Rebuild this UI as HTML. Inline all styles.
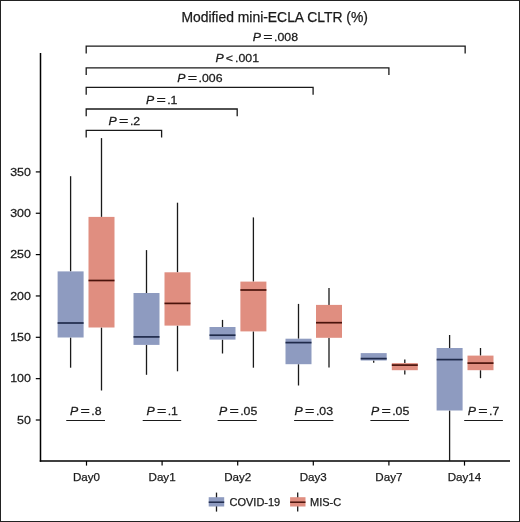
<!DOCTYPE html>
<html><head><meta charset="utf-8"><style>
html,body{margin:0;padding:0;background:#fff;}
body{width:520px;height:522px;overflow:hidden;}
svg{display:block;will-change:transform;}
text{stroke:#1a1a1a;stroke-width:0.25px;}
</style></head><body>
<svg width="520" height="522" viewBox="0 0 520 522">
<rect x="0" y="0" width="520" height="522" fill="#fff"/>
<rect x="0.5" y="0.5" width="519" height="521" fill="none" stroke="#222" stroke-width="1"/>
<text x="181.4" y="22.4" font-size="13.9" font-family="'Liberation Sans', sans-serif" fill="#1a1a1a">Modified mini-ECLA CLTR (%)</text>
<path d="M86.20 53.50 V46.2 H465.15 V53.50" fill="none" stroke="#1a1a1a" stroke-width="1.3"/>
<g transform="translate(252.80,40.9) scale(1.08,1)" font-size="11.4" font-family="'Liberation Sans', sans-serif" fill="#1a1a1a"><text x="0" y="0" font-style="italic">P</text><text transform="translate(9.72,0) scale(1.30,1)" x="0" y="0">=</text><text x="19.72" y="0">.008</text></g>
<path d="M86.20 75.10 V67.8 H388.90 V75.10" fill="none" stroke="#1a1a1a" stroke-width="1.3"/>
<g transform="translate(215.60,62.4) scale(1.08,1)" font-size="11.4" font-family="'Liberation Sans', sans-serif" fill="#1a1a1a"><text x="0" y="0" font-style="italic">P</text><text x="9.35" y="0">&lt;</text><text x="18.06" y="0">.001</text></g>
<path d="M86.20 94.70 V87.4 H313.10 V94.70" fill="none" stroke="#1a1a1a" stroke-width="1.3"/>
<g transform="translate(177.30,82.4) scale(1.08,1)" font-size="11.4" font-family="'Liberation Sans', sans-serif" fill="#1a1a1a"><text x="0" y="0" font-style="italic">P</text><text transform="translate(9.72,0) scale(1.30,1)" x="0" y="0">=</text><text x="19.72" y="0">.006</text></g>
<path d="M86.20 116.30 V109.0 H237.20 V116.30" fill="none" stroke="#1a1a1a" stroke-width="1.3"/>
<g transform="translate(145.90,103.9) scale(1.08,1)" font-size="11.4" font-family="'Liberation Sans', sans-serif" fill="#1a1a1a"><text x="0" y="0" font-style="italic">P</text><text transform="translate(9.72,0) scale(1.30,1)" x="0" y="0">=</text><text x="19.72" y="0">.1</text></g>
<path d="M86.20 137.60 V130.3 H161.60 V137.60" fill="none" stroke="#1a1a1a" stroke-width="1.3"/>
<g transform="translate(108.60,125.3) scale(1.08,1)" font-size="11.4" font-family="'Liberation Sans', sans-serif" fill="#1a1a1a"><text x="0" y="0" font-style="italic">P</text><text transform="translate(9.72,0) scale(1.30,1)" x="0" y="0">=</text><text x="19.72" y="0">.2</text></g>
<line x1="66.25" y1="420.5" x2="105.00" y2="420.5" stroke="#1a1a1a" stroke-width="1.2"/>
<g transform="translate(70.00,415.3) scale(1.08,1)" font-size="11.4" font-family="'Liberation Sans', sans-serif" fill="#1a1a1a"><text x="0" y="0" font-style="italic">P</text><text transform="translate(9.72,0) scale(1.30,1)" x="0" y="0">=</text><text x="19.72" y="0">.8</text></g>
<line x1="142.70" y1="420.5" x2="181.20" y2="420.5" stroke="#1a1a1a" stroke-width="1.2"/>
<g transform="translate(146.40,415.3) scale(1.08,1)" font-size="11.4" font-family="'Liberation Sans', sans-serif" fill="#1a1a1a"><text x="0" y="0" font-style="italic">P</text><text transform="translate(9.72,0) scale(1.30,1)" x="0" y="0">=</text><text x="19.72" y="0">.1</text></g>
<line x1="217.60" y1="420.5" x2="256.70" y2="420.5" stroke="#1a1a1a" stroke-width="1.2"/>
<g transform="translate(218.90,415.3) scale(1.08,1)" font-size="11.4" font-family="'Liberation Sans', sans-serif" fill="#1a1a1a"><text x="0" y="0" font-style="italic">P</text><text transform="translate(9.72,0) scale(1.30,1)" x="0" y="0">=</text><text x="19.72" y="0">.05</text></g>
<line x1="294.10" y1="420.5" x2="333.40" y2="420.5" stroke="#1a1a1a" stroke-width="1.2"/>
<g transform="translate(294.60,415.3) scale(1.08,1)" font-size="11.4" font-family="'Liberation Sans', sans-serif" fill="#1a1a1a"><text x="0" y="0" font-style="italic">P</text><text transform="translate(9.72,0) scale(1.30,1)" x="0" y="0">=</text><text x="19.72" y="0">.03</text></g>
<line x1="370.40" y1="420.5" x2="409.00" y2="420.5" stroke="#1a1a1a" stroke-width="1.2"/>
<g transform="translate(370.90,415.3) scale(1.08,1)" font-size="11.4" font-family="'Liberation Sans', sans-serif" fill="#1a1a1a"><text x="0" y="0" font-style="italic">P</text><text transform="translate(9.72,0) scale(1.30,1)" x="0" y="0">=</text><text x="19.72" y="0">.05</text></g>
<line x1="464.20" y1="420.5" x2="502.90" y2="420.5" stroke="#1a1a1a" stroke-width="1.2"/>
<g transform="translate(467.80,415.3) scale(1.08,1)" font-size="11.4" font-family="'Liberation Sans', sans-serif" fill="#1a1a1a"><text x="0" y="0" font-style="italic">P</text><text transform="translate(9.72,0) scale(1.30,1)" x="0" y="0">=</text><text x="19.72" y="0">.7</text></g>
<line x1="40.5" y1="53" x2="40.5" y2="461.75" stroke="#000" stroke-width="1.5"/>
<line x1="39.75" y1="461" x2="510" y2="461" stroke="#000" stroke-width="1.5"/>
<line x1="35.8" y1="420.00" x2="40.5" y2="420.00" stroke="#000" stroke-width="1.2"/>
<text transform="translate(30.9,423.70) scale(1.07,1)" x="0" y="0" text-anchor="end" font-size="11.6" font-family="'Liberation Sans', sans-serif" fill="#1a1a1a">50</text>
<line x1="35.8" y1="378.65" x2="40.5" y2="378.65" stroke="#000" stroke-width="1.2"/>
<text transform="translate(30.9,382.35) scale(1.07,1)" x="0" y="0" text-anchor="end" font-size="11.6" font-family="'Liberation Sans', sans-serif" fill="#1a1a1a">100</text>
<line x1="35.8" y1="337.30" x2="40.5" y2="337.30" stroke="#000" stroke-width="1.2"/>
<text transform="translate(30.9,341.00) scale(1.07,1)" x="0" y="0" text-anchor="end" font-size="11.6" font-family="'Liberation Sans', sans-serif" fill="#1a1a1a">150</text>
<line x1="35.8" y1="295.95" x2="40.5" y2="295.95" stroke="#000" stroke-width="1.2"/>
<text transform="translate(30.9,299.65) scale(1.07,1)" x="0" y="0" text-anchor="end" font-size="11.6" font-family="'Liberation Sans', sans-serif" fill="#1a1a1a">200</text>
<line x1="35.8" y1="254.60" x2="40.5" y2="254.60" stroke="#000" stroke-width="1.2"/>
<text transform="translate(30.9,258.30) scale(1.07,1)" x="0" y="0" text-anchor="end" font-size="11.6" font-family="'Liberation Sans', sans-serif" fill="#1a1a1a">250</text>
<line x1="35.8" y1="213.25" x2="40.5" y2="213.25" stroke="#000" stroke-width="1.2"/>
<text transform="translate(30.9,216.95) scale(1.07,1)" x="0" y="0" text-anchor="end" font-size="11.6" font-family="'Liberation Sans', sans-serif" fill="#1a1a1a">300</text>
<line x1="35.8" y1="171.90" x2="40.5" y2="171.90" stroke="#000" stroke-width="1.2"/>
<text transform="translate(30.9,175.60) scale(1.07,1)" x="0" y="0" text-anchor="end" font-size="11.6" font-family="'Liberation Sans', sans-serif" fill="#1a1a1a">350</text>
<line x1="86.50" y1="461" x2="86.50" y2="465.6" stroke="#000" stroke-width="1.2"/>
<text x="86.50" y="480.5" text-anchor="middle" font-size="11.6" font-family="'Liberation Sans', sans-serif" fill="#1a1a1a">Day0</text>
<line x1="162.10" y1="461" x2="162.10" y2="465.6" stroke="#000" stroke-width="1.2"/>
<text x="162.10" y="480.5" text-anchor="middle" font-size="11.6" font-family="'Liberation Sans', sans-serif" fill="#1a1a1a">Day1</text>
<line x1="237.70" y1="461" x2="237.70" y2="465.6" stroke="#000" stroke-width="1.2"/>
<text x="237.70" y="480.5" text-anchor="middle" font-size="11.6" font-family="'Liberation Sans', sans-serif" fill="#1a1a1a">Day2</text>
<line x1="313.30" y1="461" x2="313.30" y2="465.6" stroke="#000" stroke-width="1.2"/>
<text x="313.30" y="480.5" text-anchor="middle" font-size="11.6" font-family="'Liberation Sans', sans-serif" fill="#1a1a1a">Day3</text>
<line x1="388.90" y1="461" x2="388.90" y2="465.6" stroke="#000" stroke-width="1.2"/>
<text x="388.90" y="480.5" text-anchor="middle" font-size="11.6" font-family="'Liberation Sans', sans-serif" fill="#1a1a1a">Day7</text>
<line x1="464.50" y1="461" x2="464.50" y2="465.6" stroke="#000" stroke-width="1.2"/>
<text x="464.50" y="480.5" text-anchor="middle" font-size="11.6" font-family="'Liberation Sans', sans-serif" fill="#1a1a1a">Day14</text>
<line x1="70.60" y1="176.2" x2="70.60" y2="271.4" stroke="#1a1a1a" stroke-width="1.3"/>
<line x1="70.60" y1="337.5" x2="70.60" y2="367.7" stroke="#1a1a1a" stroke-width="1.3"/>
<rect x="57.60" y="271.4" width="26" height="66.10" fill="#8e9bc0"/>
<line x1="57.60" y1="323.0" x2="83.60" y2="323.0" stroke="#1f2a4a" stroke-width="1.7"/>
<line x1="101.50" y1="138.1" x2="101.50" y2="216.9" stroke="#1a1a1a" stroke-width="1.3"/>
<line x1="101.50" y1="327.5" x2="101.50" y2="390.5" stroke="#1a1a1a" stroke-width="1.3"/>
<rect x="88.50" y="216.9" width="26" height="110.60" fill="#e08e80"/>
<line x1="88.50" y1="280.5" x2="114.50" y2="280.5" stroke="#4a130b" stroke-width="1.7"/>
<line x1="146.50" y1="250.1" x2="146.50" y2="293.0" stroke="#1a1a1a" stroke-width="1.3"/>
<line x1="146.50" y1="344.9" x2="146.50" y2="374.8" stroke="#1a1a1a" stroke-width="1.3"/>
<rect x="133.50" y="293.0" width="26" height="51.90" fill="#8e9bc0"/>
<line x1="133.50" y1="336.9" x2="159.50" y2="336.9" stroke="#1f2a4a" stroke-width="1.7"/>
<line x1="177.50" y1="202.7" x2="177.50" y2="272.3" stroke="#1a1a1a" stroke-width="1.3"/>
<line x1="177.50" y1="325.6" x2="177.50" y2="371.3" stroke="#1a1a1a" stroke-width="1.3"/>
<rect x="164.50" y="272.3" width="26" height="53.30" fill="#e08e80"/>
<line x1="164.50" y1="303.4" x2="190.50" y2="303.4" stroke="#4a130b" stroke-width="1.7"/>
<line x1="222.50" y1="319.9" x2="222.50" y2="327.0" stroke="#1a1a1a" stroke-width="1.3"/>
<line x1="222.50" y1="339.6" x2="222.50" y2="353.5" stroke="#1a1a1a" stroke-width="1.3"/>
<rect x="209.50" y="327.0" width="26" height="12.60" fill="#8e9bc0"/>
<line x1="209.50" y1="335.2" x2="235.50" y2="335.2" stroke="#1f2a4a" stroke-width="1.7"/>
<line x1="253.40" y1="217.4" x2="253.40" y2="281.6" stroke="#1a1a1a" stroke-width="1.3"/>
<line x1="253.40" y1="331.4" x2="253.40" y2="367.7" stroke="#1a1a1a" stroke-width="1.3"/>
<rect x="240.40" y="281.6" width="26" height="49.80" fill="#e08e80"/>
<line x1="240.40" y1="290.0" x2="266.40" y2="290.0" stroke="#4a130b" stroke-width="1.7"/>
<line x1="298.50" y1="303.9" x2="298.50" y2="338.7" stroke="#1a1a1a" stroke-width="1.3"/>
<line x1="298.50" y1="364.2" x2="298.50" y2="385.5" stroke="#1a1a1a" stroke-width="1.3"/>
<rect x="285.50" y="338.7" width="26" height="25.50" fill="#8e9bc0"/>
<line x1="285.50" y1="342.6" x2="311.50" y2="342.6" stroke="#1f2a4a" stroke-width="1.7"/>
<line x1="329.00" y1="288.0" x2="329.00" y2="304.9" stroke="#1a1a1a" stroke-width="1.3"/>
<line x1="329.00" y1="337.8" x2="329.00" y2="367.6" stroke="#1a1a1a" stroke-width="1.3"/>
<rect x="316.00" y="304.9" width="26" height="32.90" fill="#e08e80"/>
<line x1="316.00" y1="322.7" x2="342.00" y2="322.7" stroke="#4a130b" stroke-width="1.7"/>
<line x1="373.70" y1="360.5" x2="373.70" y2="362.8" stroke="#1a1a1a" stroke-width="1.3"/>
<rect x="360.70" y="353.1" width="26" height="7.40" fill="#8e9bc0"/>
<line x1="360.70" y1="358.6" x2="386.70" y2="358.6" stroke="#1f2a4a" stroke-width="1.7"/>
<line x1="404.80" y1="359.6" x2="404.80" y2="363.1" stroke="#1a1a1a" stroke-width="1.3"/>
<line x1="404.80" y1="370.2" x2="404.80" y2="374.5" stroke="#1a1a1a" stroke-width="1.3"/>
<rect x="391.80" y="363.1" width="26" height="7.10" fill="#e08e80"/>
<line x1="391.80" y1="365.1" x2="417.80" y2="365.1" stroke="#4a130b" stroke-width="1.7"/>
<line x1="449.60" y1="335.0" x2="449.60" y2="348.0" stroke="#1a1a1a" stroke-width="1.3"/>
<line x1="449.60" y1="410.5" x2="449.60" y2="461.0" stroke="#1a1a1a" stroke-width="1.3"/>
<rect x="436.60" y="348.0" width="26" height="62.50" fill="#8e9bc0"/>
<line x1="436.60" y1="359.6" x2="462.60" y2="359.6" stroke="#1f2a4a" stroke-width="1.7"/>
<line x1="480.50" y1="348.0" x2="480.50" y2="355.6" stroke="#1a1a1a" stroke-width="1.3"/>
<line x1="480.50" y1="370.2" x2="480.50" y2="378.2" stroke="#1a1a1a" stroke-width="1.3"/>
<rect x="467.50" y="355.6" width="26" height="14.60" fill="#e08e80"/>
<line x1="467.50" y1="363.1" x2="493.50" y2="363.1" stroke="#4a130b" stroke-width="1.7"/>

<line x1="216.5" y1="492.6" x2="216.5" y2="511.6" stroke="#1a1a1a" stroke-width="1.3"/>
<rect x="208.7" y="497.2" width="15.5" height="9.3" fill="#8e9bc0"/>
<line x1="208.7" y1="502.2" x2="224.2" y2="502.2" stroke="#1f2a4a" stroke-width="1.5"/>
<text x="229.5" y="506" font-size="11" font-family="'Liberation Sans', sans-serif" fill="#1a1a1a">COVID-19</text>
<line x1="297.7" y1="492.6" x2="297.7" y2="511.6" stroke="#1a1a1a" stroke-width="1.3"/>
<rect x="290.1" y="497.2" width="15.4" height="9.3" fill="#e08e80"/>
<line x1="290.1" y1="502.2" x2="305.5" y2="502.2" stroke="#4a130b" stroke-width="1.5"/>
<text x="310" y="506" font-size="11" font-family="'Liberation Sans', sans-serif" fill="#1a1a1a">MIS-C</text>

</svg>
</body></html>
